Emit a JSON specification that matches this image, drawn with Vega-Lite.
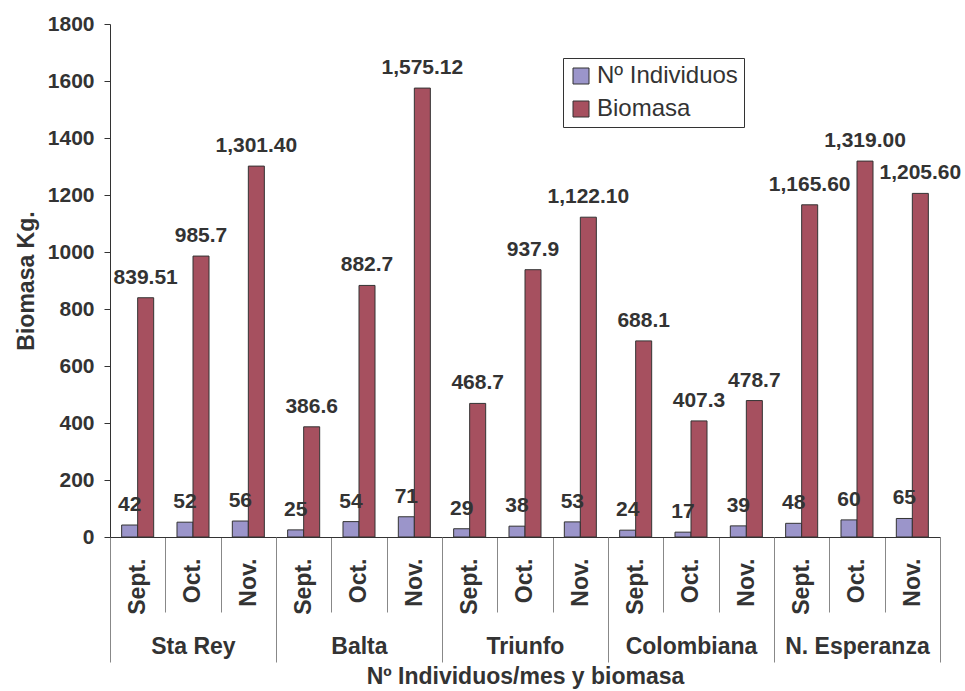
{
  "$schema": "https://vega.github.io/schema/vega-lite/v6.json",
  "width": 830,
  "height": 513,
  "autosize": {"type": "none"},
  "padding": {"left": 110, "top": 24, "right": 25, "bottom": 154},
  "background": "white",
  "config": {"font": "Liberation Sans", "view": {"stroke": null}},
  "datasets": {
    "main": [
      {"slot": "Sta Rey Sept.", "series": "Nº Individuos", "value": 42, "label": "42"},
      {"slot": "Sta Rey Sept.", "series": "Biomasa", "value": 839.51, "label": "839.51"},
      {"slot": "Sta Rey Oct.", "series": "Nº Individuos", "value": 52, "label": "52"},
      {"slot": "Sta Rey Oct.", "series": "Biomasa", "value": 985.7, "label": "985.7"},
      {"slot": "Sta Rey Nov.", "series": "Nº Individuos", "value": 56, "label": "56"},
      {"slot": "Sta Rey Nov.", "series": "Biomasa", "value": 1301.4, "label": "1,301.40"},
      {"slot": "Balta Sept.", "series": "Nº Individuos", "value": 25, "label": "25"},
      {"slot": "Balta Sept.", "series": "Biomasa", "value": 386.6, "label": "386.6"},
      {"slot": "Balta Oct.", "series": "Nº Individuos", "value": 54, "label": "54"},
      {"slot": "Balta Oct.", "series": "Biomasa", "value": 882.7, "label": "882.7"},
      {"slot": "Balta Nov.", "series": "Nº Individuos", "value": 71, "label": "71"},
      {"slot": "Balta Nov.", "series": "Biomasa", "value": 1575.12, "label": "1,575.12"},
      {"slot": "Triunfo Sept.", "series": "Nº Individuos", "value": 29, "label": "29"},
      {"slot": "Triunfo Sept.", "series": "Biomasa", "value": 468.7, "label": "468.7"},
      {"slot": "Triunfo Oct.", "series": "Nº Individuos", "value": 38, "label": "38"},
      {"slot": "Triunfo Oct.", "series": "Biomasa", "value": 937.9, "label": "937.9"},
      {"slot": "Triunfo Nov.", "series": "Nº Individuos", "value": 53, "label": "53"},
      {"slot": "Triunfo Nov.", "series": "Biomasa", "value": 1122.1, "label": "1,122.10"},
      {"slot": "Colombiana Sept.", "series": "Nº Individuos", "value": 24, "label": "24"},
      {"slot": "Colombiana Sept.", "series": "Biomasa", "value": 688.1, "label": "688.1"},
      {"slot": "Colombiana Oct.", "series": "Nº Individuos", "value": 17, "label": "17"},
      {"slot": "Colombiana Oct.", "series": "Biomasa", "value": 407.3, "label": "407.3"},
      {"slot": "Colombiana Nov.", "series": "Nº Individuos", "value": 39, "label": "39"},
      {"slot": "Colombiana Nov.", "series": "Biomasa", "value": 478.7, "label": "478.7"},
      {"slot": "N. Esperanza Sept.", "series": "Nº Individuos", "value": 48, "label": "48"},
      {"slot": "N. Esperanza Sept.", "series": "Biomasa", "value": 1165.6, "label": "1,165.60"},
      {"slot": "N. Esperanza Oct.", "series": "Nº Individuos", "value": 60, "label": "60"},
      {"slot": "N. Esperanza Oct.", "series": "Biomasa", "value": 1319.0, "label": "1,319.00"},
      {"slot": "N. Esperanza Nov.", "series": "Nº Individuos", "value": 65, "label": "65"},
      {"slot": "N. Esperanza Nov.", "series": "Biomasa", "value": 1205.6, "label": "1,205.60"}
    ],
    "edges": [
      {"t": 0}, {"t": 1}, {"t": 2}, {"t": 3}, {"t": 4}, {"t": 5}, {"t": 6}, {"t": 7},
      {"t": 8}, {"t": 9}, {"t": 10}, {"t": 11}, {"t": 12}, {"t": 13}, {"t": 14}, {"t": 15}
    ]
  },
  "resolve": {"scale": {"x": "independent"}, "axis": {"x": "independent"}},
  "layer": [
    {
      "data": {"name": "main"},
      "encoding": {
        "x": {
          "field": "slot", "type": "nominal", "sort": null,
          "scale": {
            "domain": ["Sta Rey Sept.", "Sta Rey Oct.", "Sta Rey Nov.", "Balta Sept.", "Balta Oct.", "Balta Nov.", "Triunfo Sept.", "Triunfo Oct.", "Triunfo Nov.", "Colombiana Sept.", "Colombiana Oct.", "Colombiana Nov.", "N. Esperanza Sept.", "N. Esperanza Oct.", "N. Esperanza Nov."],
            "paddingInner": 0, "paddingOuter": 0
          },
          "axis": null
        },
        "xOffset": {
          "field": "series", "type": "nominal",
          "scale": {"domain": ["Nº Individuos", "Biomasa"], "paddingInner": 0, "paddingOuter": 0.728}
        },
        "y": {
          "field": "value", "type": "quantitative",
          "scale": {"domain": [0, 1800], "nice": false},
          "axis": {
            "values": [0, 200, 400, 600, 800, 1000, 1200, 1400, 1600, 1800],
            "format": "d",
            "grid": false, "domainColor": "#333", "tickColor": "#333", "tickSize": 6,
            "labelFontSize": 21, "labelFontWeight": "bold", "labelColor": "#333", "labelPadding": 10,
            "title": "Biomasa Kg.", "titleFontSize": 23, "titleFontWeight": "bold", "titleColor": "#333", "titlePadding": 9
          }
        }
      },
      "layer": [
        {
          "mark": {"type": "bar", "stroke": "#333", "strokeWidth": 1},
          "encoding": {
            "color": {
              "field": "series", "type": "nominal",
              "scale": {"domain": ["Nº Individuos", "Biomasa"], "range": ["#9B95CA", "#A6505F"]},
              "legend": {
                "orient": "none", "legendX": 453, "legendY": 34, "title": null,
                "strokeColor": "#333", "fillColor": "white", "padding": 6,
                "symbolType": "square", "symbolSize": 256, "symbolStrokeColor": "#333", "symbolStrokeWidth": 1,
                "labelFontSize": 24, "labelColor": "#333", "labelOffset": 4, "rowPadding": 9, "labelLimit": 300
              }
            }
          }
        },
        {
          "mark": {"type": "text", "fontSize": 21, "fontWeight": "bold", "color": "#333", "dy": -14, "baseline": "alphabetic"},
          "encoding": {"text": {"field": "label", "type": "nominal"}}
        }
      ]
    },
    {
      "data": {"name": "edges"},
      "mark": {"type": "rule", "opacity": 0},
      "encoding": {
        "x": {
          "field": "t", "type": "quantitative",
          "scale": {"domain": [0, 15], "nice": false, "zero": false},
          "axis": {
            "orient": "bottom",
            "values": [0, 1, 2, 3, 4, 5, 6, 7, 8, 9, 10, 11, 12, 13, 14, 15],
            "labelExpr": "datum.value < 15 ? ['Sept.', 'Oct.', 'Nov.'][datum.value % 3] : ''",
            "labelAngle": -90, "labelOffset": 27.65, "labelPadding": -54, "labelFlush": false, "labelOverlap": false,
            "labelFontSize": 23, "labelFontWeight": "bold", "labelColor": "#333",
            "tickSize": 75, "tickColor": "#888", "domainColor": "#333", "grid": false, "title": null
          }
        }
      }
    },
    {
      "data": {"name": "edges"},
      "mark": {"type": "rule", "opacity": 0},
      "encoding": {
        "x": {
          "field": "t", "type": "quantitative",
          "scale": {"domain": [0, 15], "nice": false, "zero": false},
          "axis": {
            "orient": "bottom",
            "values": [0, 3, 6, 9, 12, 15],
            "labelExpr": "datum.value < 15 ? ['Sta Rey', 'Balta', 'Triunfo', 'Colombiana', 'N. Esperanza'][datum.value / 3] : ''",
            "labelAngle": 0, "labelOffset": 82.95, "labelPadding": -27, "labelBaseline": "top", "labelAlign": "center",
            "labelFlush": false, "labelOverlap": false,
            "labelFontSize": 23, "labelFontWeight": "bold", "labelColor": "#333",
            "tickSize": 125, "tickColor": "#888", "domain": false, "grid": false,
            "title": "Nº Individuos/mes y biomasa", "titleFontSize": 23, "titleFontWeight": "bold", "titleColor": "#333", "titlePadding": 3
          }
        }
      }
    }
  ]
}
